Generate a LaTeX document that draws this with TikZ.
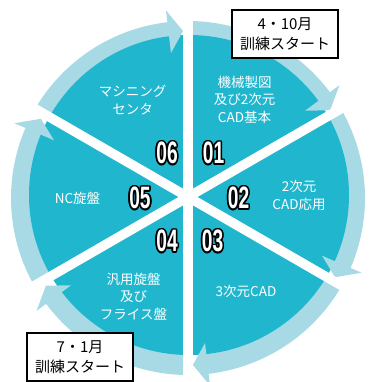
\documentclass[tikz,border=0pt]{standalone}
\usepackage{fontspec}
\newfontfamily\jp{Noto Sans CJK JP}
\newfontfamily\numfnt{Liberation Sans}[FakeStretch=0.62]
\definecolor{dark}{RGB}{32,183,206}
\definecolor{light}{RGB}{168,218,229}
\tikzset{
  num/.style={font=\numfnt\bfseries\fontsize{31}{31}\selectfont, inner sep=0pt},
  lbl/.style={text=white, font=\jp\fontsize{13.5}{17.5}\selectfont, align=center, inner sep=0pt},
  startbox/.style={draw=black, line width=2pt, fill=white, minimum width=106pt, minimum height=48pt,
    align=center, font=\jp\fontsize{15}{20}\selectfont, inner sep=0pt},
  gap/.style={white, line width=9.5pt},
  band/.style={light, line width=22pt}
}
\newcommand\numlbl[3]{%
  \foreach \ang in {0,30,...,330}{\node[num,text=black,shift={(\ang:1.6pt)}] at (#2) {#3};}
  \node[num,text=white] (#1) at (#2) {#3};}
\begin{document}
\begin{tikzpicture}[x=1pt,y=1pt]
\useasboundingbox (0,0) rectangle (372,-382);
% ring arcs
\foreach \e in {30,-30,-90,-150,-210,90} {
  \draw[band] ({188+166*cos(\e+60)},{-198+166*sin(\e+60)})
    arc[start angle=\e+60, end angle=\e+6.5, radius=166pt];
}
% dark disk
\fill[dark] (189,-195) circle[radius=160pt];
% arrowheads
\foreach \e in {30,-30,-90,-150,-210,90} {
  \fill[light] ({188+167*cos(\e+1.7)},{-198+167*sin(\e+1.7)})
    -- ({188+146*cos(\e+6.7)},{-198+146*sin(\e+6.7)})
    -- ({188+189*cos(\e+6.7)},{-198+189*sin(\e+6.7)}) -- cycle;
}
% white gaps
\foreach \a in {90,30,150} {
  \draw[gap] ({188+200*cos(\a)},{-197+200*sin(\a)}) -- ({188-200*cos(\a)},{-197-200*sin(\a)});
}
% labels
\node[lbl] (m1) at (244.5,-99.5) {機械製図\\及び2次元\\CAD基本};
\node[lbl] (m2) at (299,-195.5) {2次元\\CAD応用};
\node[lbl] (m3) at (246,-291) {3次元CAD};
\node[lbl] (m4) at (133.5,-296.5) {汎用旋盤\\及び\\フライス盤};
\node[lbl] (m5) at (77.5,-198) {NC旋盤};
\node[lbl] (m6) at (132.5,-100) {マシニング\\センタ};
% numbers
\numlbl{n1}{213.5,-153}{01}
\numlbl{n2}{238.5,-198}{02}
\numlbl{n3}{212.5,-241}{03}
\numlbl{n4}{167,-241}{04}
\numlbl{n5}{140,-198}{05}
\numlbl{n6}{167,-153}{06}
% start boxes
\node[startbox] (s1) at (285,-34) {4・10月\\訓練スタート};
\node[startbox] (s2) at (80,-357) {7・1月\\訓練スタート};
\end{tikzpicture}
\end{document}
